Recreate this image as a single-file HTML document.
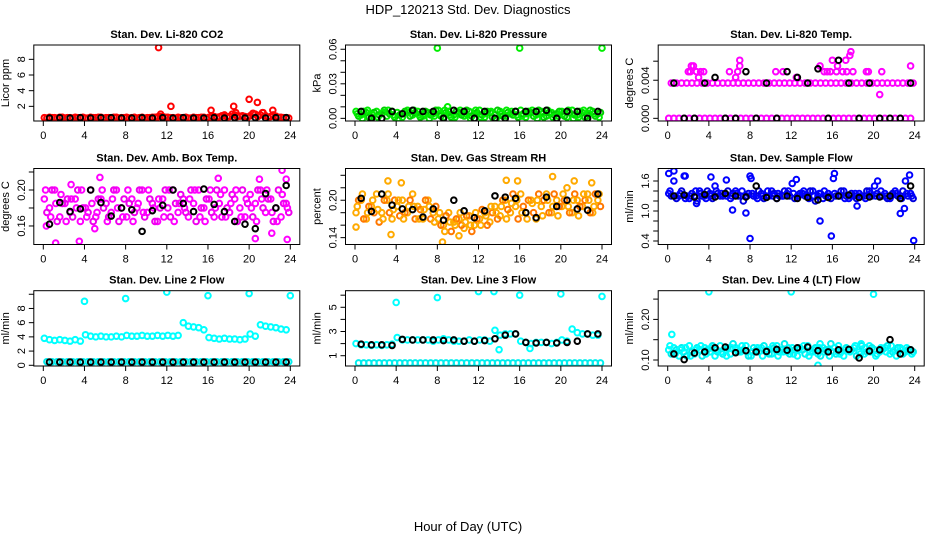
<!DOCTYPE html>
<html><head><meta charset="utf-8"><style>
body{margin:0;background:#fff;width:936px;height:540px;overflow:hidden}
svg{display:block}
text{font-family:"Liberation Sans",Arial,sans-serif;fill:#000}
</style></head><body>
<svg id="chart" width="936" height="540" xmlns="http://www.w3.org/2000/svg">
<text x="468" y="14" text-anchor="middle" font-size="13">HDP_120213  Std. Dev. Diagnostics</text>
<text x="468" y="531" text-anchor="middle" font-size="13">Hour of Day (UTC)</text>
</svg>
<script>
const xTicks=[0,4,8,12,16,20,24];
// Panel 1 CO2
const co2A=[0.55,0.6,0.55,0.6,0.5,0.55,0.6,0.55,0.5,0.6,0.55,0.6,0.55,0.5,0.6,0.55,0.6,0.55,0.5,0.6,0.55,0.6,0.65,0.7,0.6,0.55,0.6,0.55,0.5,0.6,0.55,0.6,0.6,0.7,0.65,0.8,0.7,0.9,0.75,0.7,0.8,1.0,0.9,0.8,0.7,0.75,0.6,0.55];
const co2B=[0.5,0.55,0.5,0.6,0.55,0.5,0.55,0.6,0.5,0.55,0.6,0.5,0.55,0.6,0.5,0.55,0.5,0.6,0.55,0.5,0.55,0.6,0.7,0.6,0.55,0.5,0.55,0.6,0.5,0.55,0.6,0.5,0.7,0.6,0.8,0.65,1.0,0.7,0.8,0.6,1.1,0.7,1.2,0.6,0.9,0.6,0.55,0.5];
const co2C=[];
const co2Black=[0.5,0.55,0.5,0.55,0.5,0.55,0.55,0.5,0.5,0.55,0.5,0.55,0.5,0.55,0.5,0.5,0.55,0.5,0.55,0.5,0.55,0.5,0.55,0.55];
const co2OutX=[11.2,12.4,16.3,18.5,18.7,20.0,20.8,22.3,20.4,21.3,17.6,11.4];
const co2OutY=[9.5,2.0,1.5,2.0,1.2,2.9,2.5,1.5,1.1,1.2,0.9,1.0];
// Panel 2 Pressure
const prA=[0.006,0.003,0.005,0.001,0.006,0.004,0.002,0.006,0.005,0.001,0.007,0.003,0.006,0.002,0.005,0.004,0.007,0.001,0.006,0.003,0.005,0.002,0.006,0.004,0.007,0.001,0.005,0.003,0.006,0.002,0.004,0.006,0.007,0.001,0.005,0.003,0.006,0.002,0.005,0.004,0.006,0.001,0.007,0.003,0.005,0.002,0.006,0.004];
const prB=[0.002,0.006,0.001,0.005,0.003,0.007,0.004,0.001,0.003,0.006,0.002,0.005,0.001,0.006,0.003,0.007,0.002,0.005,0.001,0.006,0.003,0.007,0.002,0.005,0.003,0.006,0.001,0.007,0.002,0.005,0.003,0.001,0.004,0.006,0.002,0.007,0.001,0.005,0.003,0.006,0.002,0.005,0.003,0.006,0.001,0.007,0.002,0.005];
const prC=[0.004,0.0,0.007,0.003,0.001,0.005,0.007,0.003,0.0,0.004,0.005,0.007,0.003,0.004,0.0,0.002,0.004,0.007,0.003,0.001,0.007,0.004,0.0,0.007,0.001,0.004,0.006,0.0,0.004,0.007,0.006,0.003,0.002,0.004,0.007,0.0,0.004,0.007,0.001,0.002,0.004,0.007,0.0,0.001,0.007,0.004,0.004,0.001];
const prBlack=[0.006,0,0,0.006,0.004,0.007,0.006,0.006,0,0.007,0.006,0,0.006,0,0,0.006,0.006,0.006,0.007,0,0.006,0.006,0,0.006];
const prOutX=[8,16,24,9.0];
const prOutY=[0.061,0.061,0.061,0.010];
// Panel 3 Li-820 Temp
const ltA=[0,0,0,0,0,0,0,0,0,0,0,0,0,0,0,0,0,0,0,0,0,0,0,0,0,0,0,0,0,0,0,0,0,0,0,0,0,0,0,0,0,0,0,0,0,0,0,0];
const ltB=[0.0037,0.0037,0.0037,0.0037,0.0037,0.0037,0.0037,0.0037,0.0037,0.0037,0.0037,0.0037,0.0037,0.0037,0.0037,0.0037,0.0037,0.0037,0.0037,0.0037,0.0037,0.0037,0.0037,0.0037,0.0037,0.0037,0.0037,0.0037,0.0037,0.0037,0.0037,0.0037,0.0037,0.0037,0.0037,0.0037,0.0037,0.0037,0.0037,0.0037,0.0037,0.0037,0.0037,0.0037,0.0037,0.0037,0.0037,0.0037];
const ltC=[];
const ltBlack=[0.0037,0,0,0.0037,0.0043,0,0,0.0049,0,0.0037,0,0.0049,0.0043,0.0037,0.0052,0,0.0061,0.0037,0,0.0037,0,0,0,0.0037];
const ltOutX=[2.3,2.5,2.0,2.2,2.8,3.2,3.0,6.0,6.8,7.0,7.0,6.6,10.5,11.2,12.5,14.8,15.2,15.5,16.0,16.5,16.4,17.3,17.7,17.8,17.4,18.0,19.3,19.5,20.6,20.8,23.6,17.0,15.8,3.5];
const ltOutY=[0.0055,0.0055,0.0049,0.0049,0.0049,0.0049,0.0043,0.0049,0.0049,0.0055,0.0061,0.0043,0.0049,0.0049,0.0043,0.0055,0.0049,0.0049,0.0061,0.0055,0.0049,0.0061,0.0066,0.0070,0.0049,0.0049,0.0049,0.0049,0.0025,0.0049,0.0055,0.0049,0.0049,0.0049];
// Panel 4 Amb box temp
const atA=[0.19,0.18,0.2,0.17,0.185,0.175,0.19,0.165,0.18,0.2,0.17,0.19,0.185,0.175,0.2,0.18,0.17,0.19,0.18,0.2,0.175,0.185,0.165,0.19,0.18,0.2,0.175,0.19,0.17,0.185,0.2,0.18,0.19,0.17,0.185,0.2,0.175,0.19,0.18,0.17,0.195,0.185,0.2,0.175,0.19,0.18,0.17,0.185];
const atB=[0.175,0.2,0.165,0.185,0.19,0.17,0.2,0.18,0.175,0.165,0.19,0.18,0.17,0.2,0.165,0.19,0.185,0.175,0.2,0.17,0.19,0.165,0.18,0.2,0.17,0.185,0.195,0.175,0.2,0.165,0.18,0.19,0.175,0.2,0.17,0.18,0.195,0.165,0.2,0.185,0.17,0.2,0.18,0.19,0.165,0.2,0.185,0.175];
const atC=[0.2,0.17,0.185,0.195,0.165,0.19,0.18,0.2,0.17,0.185,0.175,0.2,0.165,0.19,0.18,0.17,0.2,0.165,0.185,0.175,0.2,0.18,0.19,0.17,0.2,0.165,0.185,0.18,0.19,0.2,0.17,0.165,0.2,0.18,0.195,0.17,0.185,0.2,0.17,0.19,0.18,0.165,0.19,0.2,0.175,0.165,0.195,0.18];
const atBlack=[0.162,0.186,0.176,0.179,0.2,0.186,0.171,0.18,0.178,0.154,0.177,0.183,0.2,0.185,0.176,0.201,0.184,0.176,0.165,0.162,0.157,0.196,0.18,0.205];
const atOutX=[1.2,3.5,5.5,23.2,23.6,23.7,17,21,20.6,2.7,0.3,5.0,22.2];
const atOutY=[0.141,0.143,0.214,0.222,0.212,0.145,0.213,0.212,0.146,0.206,0.16,0.157,0.152];
// Panel 5 Gas stream RH
const rhA=[0.18,0.2,0.17,0.19,0.21,0.18,0.2,0.17,0.19,0.2,0.18,0.21,0.19,0.17,0.2,0.18,0.17,0.16,0.18,0.165,0.17,0.155,0.175,0.16,0.17,0.18,0.165,0.19,0.175,0.2,0.18,0.19,0.21,0.18,0.2,0.17,0.19,0.21,0.18,0.2,0.19,0.22,0.18,0.2,0.19,0.21,0.18,0.2];
const rhB=[0.2,0.17,0.19,0.18,0.165,0.2,0.18,0.2,0.175,0.18,0.2,0.17,0.185,0.2,0.17,0.19,0.16,0.175,0.15,0.17,0.16,0.175,0.15,0.17,0.185,0.16,0.18,0.17,0.2,0.185,0.21,0.17,0.19,0.2,0.18,0.21,0.2,0.18,0.21,0.19,0.2,0.18,0.21,0.19,0.2,0.18,0.21,0.19];
const rhC=[0.19,0.21,0.18,0.2,0.185,0.17,0.21,0.185,0.2,0.17,0.19,0.19,0.17,0.185,0.19,0.165,0.18,0.15,0.165,0.16,0.18,0.165,0.16,0.18,0.16,0.175,0.19,0.18,0.19,0.17,0.195,0.2,0.18,0.17,0.195,0.2,0.175,0.2,0.19,0.175,0.21,0.19,0.2,0.175,0.21,0.2,0.19,0.21];
const rhBlack=[0.203,0.182,0.21,0.192,0.186,0.185,0.173,0.186,0.168,0.2,0.183,0.172,0.183,0.207,0.205,0.203,0.18,0.172,0.205,0.19,0.2,0.186,0.184,0.21];
const rhOutX=[0.1,3.2,3.5,4.5,8.5,10.1,14.7,15.8,19.2,21.3,23.0];
const rhOutY=[0.157,0.231,0.145,0.228,0.133,0.143,0.232,0.231,0.238,0.231,0.228];
// Panel 6 Sample flow
const sfA=[1.35,1.6,1.3,1.7,1.25,1.3,1.4,1.3,1.35,1.5,1.3,1.35,1.25,1.4,1.3,1.3,1.65,1.3,1.35,1.3,1.4,1.25,1.3,1.35,1.55,1.3,1.35,1.3,1.4,1.3,1.25,1.35,1.65,1.3,1.4,1.25,1.3,1.35,1.3,1.4,1.5,1.3,1.35,1.25,1.4,1.3,1.6,1.35];
const sfB=[1.3,1.25,1.4,1.3,1.35,1.2,1.3,1.4,1.25,1.35,1.3,1.4,1.35,1.3,1.2,1.35,1.3,1.4,1.25,1.3,1.35,1.3,1.4,1.3,1.25,1.35,1.3,1.4,1.2,1.35,1.3,1.25,1.3,1.4,1.3,1.35,1.25,1.3,1.4,1.3,1.35,1.3,1.25,1.35,1.3,1.4,1.3,1.25];
const sfC=[1.4,1.3,1.35,1.25,1.3,1.4,1.35,1.25,1.3,1.4,1.35,1.3,1.3,1.35,1.4,1.3,1.35,1.25,1.3,1.4,1.3,1.35,1.3,1.4,1.35,1.3,1.4,1.25,1.3,1.35,1.4,1.3,1.35,1.3,1.25,1.3,1.35,1.3,1.25,1.35,1.3,1.4,1.3,1.3,1.35,1.25,1.35,1.3];
const sfBlack=[1.3,1.32,1.28,1.33,1.28,1.35,1.3,1.28,1.5,1.27,1.25,1.3,1.25,1.27,1.22,1.27,1.3,1.32,1.27,1.28,1.28,1.3,1.25,1.5];
const sfOutX=[0.1,0.6,1.7,4.2,8.0,5.7,12.5,16.2,20.4,23.5,8.0,14.8,15.9,23.9,7.6,6.3,2.8,18.4,22.6,23.0];
const sfOutY=[1.75,1.8,1.7,1.68,1.7,1.62,1.63,1.75,1.6,1.72,0.45,0.8,0.5,0.41,0.96,1.02,1.15,1.1,0.95,1.05];
// Panel 7 Line 2 flow
const l2A=[3.8,3.6,3.5,3.6,3.5,3.4,3.6,3.4,4.3,4.1,4.0,4.1,4.0,4.0,4.1,4.0,4.2,4.1,4.1,4.2,4.1,4.1,4.2,4.1,4.2,4.1,4.2,6.0,5.5,5.4,5.3,5.0,3.9,3.8,3.7,3.8,3.7,3.7,3.6,3.7,4.4,4.1,5.7,5.5,5.4,5.3,5.1,5.0];
const l2B=[0.5,0.5,0.5,0.5,0.5,0.5,0.5,0.5,0.5,0.5,0.5,0.5,0.5,0.5,0.5,0.5,0.5,0.5,0.5,0.5,0.5,0.5,0.5,0.5,0.5,0.5,0.5,0.5,0.5,0.5,0.5,0.5,0.5,0.5,0.5,0.5,0.5,0.5,0.5,0.5,0.5,0.5,0.5,0.5,0.5,0.5,0.5,0.5];
const l2C=[];
const l2Black=[0.45,0.45,0.45,0.45,0.45,0.45,0.45,0.45,0.45,0.45,0.45,0.45,0.45,0.45,0.45,0.45,0.45,0.45,0.45,0.45,0.45,0.45,0.45,0.45];
const l2OutX=[4,8,12,16,20,24];
const l2OutY=[9.0,9.4,10.3,9.8,10.1,9.8];
// Panel 8 Line 3 flow
const l3A=[2.0,1.9,1.9,1.85,1.9,1.85,1.9,1.95,2.5,2.3,2.3,2.3,2.3,2.3,2.3,2.2,2.3,2.4,2.3,2.2,2.2,2.2,2.3,2.2,2.3,2.3,2.2,3.1,2.7,2.8,2.8,2.8,2.2,2.1,2.0,2.1,2.1,2.1,2.0,2.1,2.3,2.2,3.2,2.9,2.8,2.8,2.7,2.7];
const l3B=[0.4,0.4,0.4,0.4,0.4,0.4,0.4,0.4,0.4,0.4,0.4,0.4,0.4,0.4,0.4,0.4,0.4,0.4,0.4,0.4,0.4,0.4,0.4,0.4,0.4,0.4,0.4,0.4,0.4,0.4,0.4,0.4,0.4,0.4,0.4,0.4,0.4,0.4,0.4,0.4,0.4,0.4,0.4,0.4,0.4,0.4,0.4,0.4];
const l3C=[];
const l3Black=[1.95,1.9,1.9,1.85,2.35,2.3,2.3,2.3,2.25,2.3,2.2,2.2,2.25,2.4,2.7,2.8,2.1,2.05,2.1,2.05,2.1,2.2,2.8,2.8];
const l3OutX=[4,8,12,13.5,16,20,24,14,17];
const l3OutY=[5.4,5.8,6.3,6.3,6.0,6.1,5.9,1.5,1.6];
// Panel 9 Line 4 flow
const l4A=[0.125,0.13,0.11,0.12,0.135,0.115,0.125,0.13,0.12,0.11,0.135,0.125,0.115,0.13,0.12,0.135,0.11,0.125,0.13,0.12,0.115,0.135,0.125,0.12,0.13,0.11,0.125,0.135,0.12,0.115,0.13,0.125,0.12,0.135,0.11,0.125,0.13,0.12,0.115,0.135,0.125,0.12,0.13,0.115,0.125,0.13,0.12,0.125];
const l4B=[0.115,0.125,0.13,0.11,0.12,0.13,0.11,0.125,0.135,0.12,0.115,0.13,0.14,0.12,0.125,0.11,0.13,0.12,0.135,0.115,0.13,0.12,0.14,0.115,0.125,0.13,0.115,0.12,0.13,0.11,0.125,0.14,0.115,0.12,0.13,0.125,0.11,0.135,0.12,0.13,0.115,0.125,0.135,0.12,0.13,0.115,0.125,0.12];
const l4C=[0.135,0.115,0.125,0.13,0.11,0.125,0.135,0.115,0.13,0.125,0.12,0.11,0.13,0.125,0.135,0.12,0.12,0.13,0.11,0.125,0.135,0.11,0.12,0.13,0.115,0.125,0.135,0.11,0.125,0.13,0.12,0.11,0.13,0.115,0.125,0.12,0.135,0.115,0.13,0.12,0.11,0.13,0.12,0.135,0.11,0.125,0.13,0.115];
const l4Black=[0.115,0.101,0.117,0.12,0.13,0.132,0.118,0.123,0.12,0.121,0.126,0.124,0.13,0.132,0.123,0.12,0.125,0.126,0.105,0.122,0.125,0.15,0.115,0.125];
const l4OutX=[4,12,20,0.4,14.6,14.8,18.8];
const l4OutY=[0.268,0.268,0.262,0.163,0.087,0.14,0.14];

const panels=[
 {name:'co2',title:'Stan. Dev. Li-820 CO2',yl:'Licor ppm',col:0,row:0,ymin:0.13,ymax:9.83,ticks:[2,4,6,8],labs:[2,4,6,8],dig:0,cA:'#ff0000',cB:'#ff0000',A:co2A,B:co2B,C:co2C,K:co2Black,ox:co2OutX,oy:co2OutY},
 {name:'pressure',title:'Stan. Dev. Li-820 Pressure',yl:'kPa',col:1,row:0,ymin:-0.0023,ymax:0.0637,ticks:[0,0.01,0.02,0.03,0.04,0.05,0.06],labs:[0,0.03,0.06],dig:2,cA:'#00ee00',cB:'#00cc00',A:prA,B:prB,C:prC,K:prBlack,ox:prOutX,oy:prOutY},
 {name:'li-temp',title:'Stan. Dev. Li-820 Temp.',yl:'degrees C',col:2,row:0,ymin:-0.00028,ymax:0.0077,ticks:[0,0.002,0.004,0.006],labs:[0,0.004],dig:3,cA:'#ff00ff',cB:'#ff00ff',A:ltA,B:ltB,C:ltC,K:ltBlack,ox:ltOutX,oy:ltOutY},
 {name:'amb-temp',title:'Stan. Dev. Amb. Box Temp.',yl:'degrees C',col:0,row:1,ymin:0.1394,ymax:0.2239,ticks:[0.16,0.18,0.20,0.22],labs:[0.16,0.20],dig:2,cA:'#ff00ff',cB:'#ee00ee',A:atA,B:atB,C:atC,K:atBlack,ox:atOutX,oy:atOutY},
 {name:'gas-rh',title:'Stan. Dev. Gas Stream RH',yl:'percent',col:1,row:1,ymin:0.129,ymax:0.2509,ticks:[0.14,0.16,0.18,0.20,0.22,0.24],labs:[0.14,0.20],dig:2,cA:'#ffaa00',cB:'#ff7700',A:rhA,B:rhB,C:rhC,K:rhBlack,ox:rhOutX,oy:rhOutY},
 {name:'sample-flow',title:'Stan. Dev. Sample Flow',yl:'ml/min',col:2,row:1,ymin:0.33,ymax:1.85,ticks:[0.4,0.6,0.8,1.0,1.2,1.4,1.6],labs:[0.4,1.0,1.6],dig:1,cA:'#0000ff',cB:'#0000dd',A:sfA,B:sfB,C:sfC,K:sfBlack,ox:sfOutX,oy:sfOutY},
 {name:'line2-flow',title:'Stan. Dev. Line 2 Flow',yl:'ml/min',col:0,row:2,ymin:-0.1,ymax:10.5,ticks:[0,2,4,6,8,10],labs:[0,2,4,6,8],dig:0,cA:'#00ffff',cB:'#00eeee',A:l2A,B:l2B,C:l2C,K:l2Black,ox:l2OutX,oy:l2OutY},
 {name:'line3-flow',title:'Stan. Dev. Line 3 Flow',yl:'ml/min',col:1,row:2,ymin:0.15,ymax:6.37,ticks:[1,2,3,4,5,6],labs:[1,3,5],dig:0,cA:'#00ffff',cB:'#00eeee',A:l3A,B:l3B,C:l3C,K:l3Black,ox:l3OutX,oy:l3OutY},
 {name:'line4-flow',title:'Stan. Dev. Line 4 (LT) Flow',yl:'ml/min',col:2,row:2,ymin:0.0852,ymax:0.2707,ticks:[0.10,0.15,0.20,0.25],labs:[0.10,0.20],dig:2,cA:'#00ffff',cB:'#00eeee',A:l4A,B:l4B,C:l4C,K:l4Black,ox:l4OutX,oy:l4OutY}
];
const svg=document.getElementById('chart');
const NS='http://www.w3.org/2000/svg';
const colX0=[43.3,355,667.7],rowTop=[45,168.5,290.7],rowBot=[121,244.5,366];
function mk(tag,attrs,parent){const e=document.createElementNS(NS,tag);for(const k in attrs)e.setAttribute(k,attrs[k]);parent.appendChild(e);return e;}
panels.forEach(p=>{
 const g=document.createElementNS(NS,'g');svg.appendChild(g);
 
 
 const x0=colX0[p.col],top=rowTop[p.row],bot=rowBot[p.row];
 const X=t=>x0+t*247/24;
 const Y=v=>bot-(v-p.ymin)/(p.ymax-p.ymin)*(bot-top);
 const L=x0-9.5,R=x0+256.5;
 const ttl=mk('text',{x:(L+R)/2,y:top-7,'text-anchor':'middle','font-size':'11','font-weight':'bold'},g);ttl.textContent=p.title;
 
 
 const yl=mk('text',{x:0,y:0,'text-anchor':'middle','font-size':'11',transform:`translate(${L-25},${(top+bot)/2}) rotate(-90)`},g);yl.textContent=p.yl;
 
 
 const clip=mk('clipPath',{id:'c'+p.name},g);mk('rect',{x:L,y:top,width:R-L,height:bot-top},clip);
 const pts=mk('g',{'clip-path':`url(#c${p.name})`,fill:'none','stroke-width':'2'},g);
 
 
 const dot=(t,v,c)=>{const e=mk('circle',{cx:X(t),cy:Y(v),r:2.8,stroke:c},pts);};
 p.A.forEach((v,i)=>dot(i*0.5+0.1,v,p.cA));
 p.B.forEach((v,i)=>dot(i*0.5+0.35,v,p.cB));
 p.C.forEach((v,i)=>dot(i*0.5+0.22,v,p.cA));
 p.ox.forEach((t,i)=>dot(t,p.oy[i],p.cA));
 p.K.forEach((v,i)=>dot(i+0.6,v,'#000'));
 const box=mk('rect',{x:L,y:top,width:R-L,height:bot-top,fill:'none',stroke:'#000','stroke-width':'1'},g);
 
 
 xTicks.forEach(t=>{mk('line',{x1:X(t),x2:X(t),y1:bot,y2:bot+5,stroke:'#000'},g);
  const tx=mk('text',{x:X(t),y:bot+18,'text-anchor':'middle','font-size':'11'},g);tx.textContent=t;
  
  });
 p.ticks.forEach(v=>mk('line',{x1:L-5,x2:L,y1:Y(v),y2:Y(v),stroke:'#000'},g));
 p.labs.forEach(v=>{const tx=mk('text',{x:0,y:0,'text-anchor':'middle','font-size':'11',transform:`translate(${L-9},${Y(v)}) rotate(-90)`},g);tx.textContent=v.toFixed(p.dig);
  
  });
});
</script>
</body></html>
